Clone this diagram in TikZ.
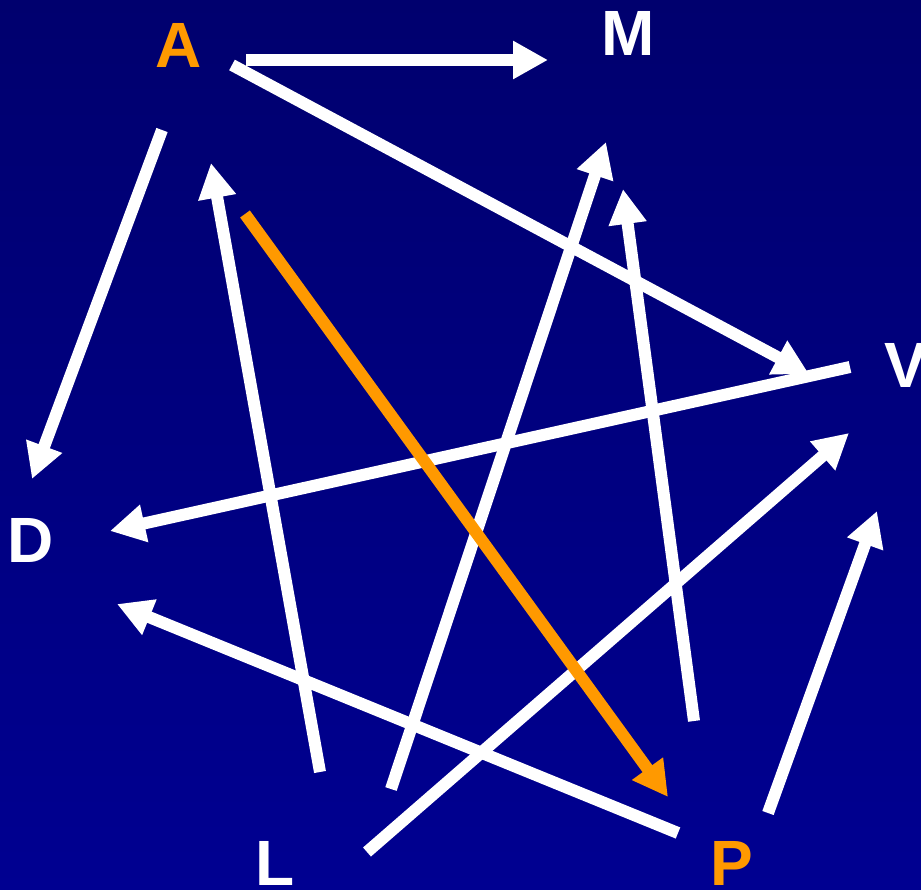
\documentclass[tikz,border=0pt]{standalone}
\usepackage{fontspec}
\setmainfont{Liberation Sans}
\usetikzlibrary{arrows.meta}
\definecolor{bgtop}{RGB}{0,0,110}
\definecolor{bgbot}{RGB}{0,0,145}
\definecolor{orng}{RGB}{255,153,0}
\begin{document}
\begin{tikzpicture}[x=1pt,y=-1pt,
  lbl/.style={inner sep=0pt,font=\fontsize{64}{64}\selectfont\bfseries},
  arr/.style={line width=12pt,draw=white,-{Triangle[length=35pt,width=36pt]}},
  oarr/.style={arr,draw=orng}]
\shade[top color=bgtop,bottom color=bgbot] (0,0) rectangle (921,890);
\useasboundingbox (0,0) rectangle (921,890);
% labels
\node[lbl,text=orng] (A) at (179,45) {A};
\node[lbl,text=white] (M) at (628,33) {M};
\node[lbl,text=white] (V) at (906,365) {V};
\node[lbl,text=white] (D) at (31,540) {D};
\node[lbl,text=white] (L) at (275,863) {L};
\node[lbl,text=orng] (P) at (732,863) {P};
% endpoints
\coordinate (am1) at (246,60);  \coordinate (am2) at (548,60);
\coordinate (av1) at (232,65);  \coordinate (av2) at (809,374);
\coordinate (ad1) at (162,130); \coordinate (ad2) at (32,479);
\coordinate (la1) at (320,772); \coordinate (la2) at (211,163);
\coordinate (ap1) at (245,214); \coordinate (ap2) at (668,797);
\coordinate (vd1) at (850,367); \coordinate (vd2) at (110,531);
\coordinate (lm1) at (391,789); \coordinate (lm2) at (606,142);
\coordinate (pm1) at (694,721); \coordinate (pm2) at (623,189);
\coordinate (lv1) at (367,852); \coordinate (lv2) at (849,433);
\coordinate (pd1) at (678,833); \coordinate (pd2) at (117,604);
\coordinate (pv1) at (768,813); \coordinate (pv2) at (877,511);
% arrows
\draw[arr] (am1) -- (am2);
\draw[arr] (av1) -- (av2);
\draw[arr] (ad1) -- (ad2);
\draw[arr] (la1) -- (la2);
\draw[arr] (vd1) -- (vd2);
\draw[arr] (lm1) -- (lm2);
\draw[arr] (pm1) -- (pm2);
\draw[arr] (lv1) -- (lv2);
\draw[arr] (pd1) -- (pd2);
\draw[arr] (pv1) -- (pv2);
\draw[oarr] (ap1) -- (ap2);
\end{tikzpicture}
\end{document}
